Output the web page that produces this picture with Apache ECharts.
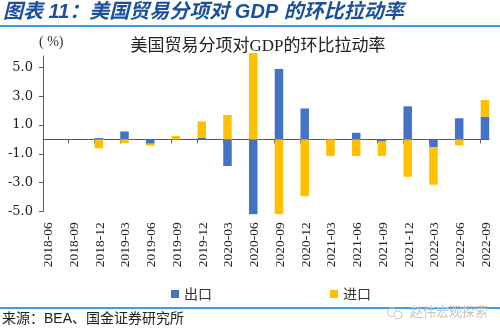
<!DOCTYPE html>
<html>
<head>
<meta charset="utf-8">
<script src="https://cdn.jsdelivr.net/npm/echarts@6/dist/echarts.min.js"></script>
<style>html,body{margin:0;padding:0;background:#fff}#c{width:500px;height:335px}</style>
</head>
<body>
<div id="c"></div>
<script>
const categories = ['2018-06','2018-09','2018-12','2019-03','2019-06','2019-09','2019-12','2020-03','2020-06','2020-09','2020-12','2021-03','2021-06','2021-09','2021-12','2022-03','2022-06','2022-09'];
const exportsContrib = [null, null, 0.1, 0.55, -0.3, 0, 0.1, -1.85, -5.2, 4.9, 2.15, 0, 0.46, -0.15, 2.3, -0.55, 1.47, 1.58];
const importsContrib = [null, null, -0.62, -0.26, -0.14, 0.24, 1.15, 1.7, 6.0, -5.2, -3.95, -1.15, -1.15, -1.0, -2.6, -2.6, -0.42, 1.16];
const yTicks = [-5, -3, -1, 1, 3, 5];
const seriesNames = ['出口', '进口'];

const idx = categories.map((c, i) => i);

const chart = echarts.init(document.getElementById('c'), null, {renderer: 'canvas'});
const serif = '"Liberation Serif", "Noto Sans CJK SC", serif';
const axisColor = '#595959';
const yMin = -5, yMax = 5.8;

chart.setOption({
  animation: false,
  backgroundColor: '#fff',
  title: {
    text: '美国贸易分项对GDP的环比拉动率',
    left: 253, top: 33, textAlign: 'center',
    textStyle: {fontFamily: serif, fontSize: 17, fontWeight: 'normal', color: '#222'}
  },
  legend: {
    data: seriesNames,
    left: 166, top: 282,
    icon: 'rect', itemWidth: 8, itemHeight: 8, itemGap: 118,
    textStyle: {fontFamily: '"Noto Sans CJK SC", sans-serif', fontSize: 14, color: '#333'}
  },
  grid: [
    {left: 43, right: 19.3, top: 56, bottom: 123.7, containLabel: false, outerBoundsMode: 'none'},
    {left: 43, right: 11, top: 56, bottom: 123.7, containLabel: false, outerBoundsMode: 'none'}
  ],
  xAxis: [{
    type: 'category', data: categories, boundaryGap: false, gridIndex: 0, position: 'bottom',
    axisLine: {show: false, onZero: false},
    axisTick: {show: false},
    splitLine: {show: false},
    axisLabel: {
      show: true, rotate: 90, margin: 11, interval: 0,
      verticalAlign: 'top', lineHeight: 11,
      fontFamily: serif, fontSize: 13.5, color: '#222'
    }
  }, {
    type: 'value', min: 0, max: 17.33, gridIndex: 1,
    axisLine: {show: true, onZero: true, lineStyle: {color: axisColor, width: 1}},
    axisTick: {show: true, inside: false, length: 4, customValues: idx, lineStyle: {color: axisColor}},
    axisLabel: {show: false},
    splitLine: {show: false}
  }],
  yAxis: [{
    type: 'value', min: yMin, max: yMax, gridIndex: 0,
    axisLine: {show: true, onZero: false, lineStyle: {color: axisColor, width: 1}},
    axisTick: {show: true, inside: false, length: 4, customValues: yTicks, lineStyle: {color: axisColor}},
    axisLabel: {
      customValues: yTicks, margin: 10,
      formatter: v => v.toFixed(1),
      fontFamily: '"DejaVu Serif", serif', fontSize: 13, color: '#222'
    },
    splitLine: {show: false}
  }, {
    type: 'value', min: yMin, max: yMax, gridIndex: 1, show: false,
    axisLine: {show: false}, axisTick: {show: false}, axisLabel: {show: false}, splitLine: {show: false}
  }],
  series: [{
    name: '_pad', type: 'bar', stack: 'pad', xAxisIndex: 0, yAxisIndex: 0,
    data: [], barWidth: 8.5, barGap: 0, silent: true, clip: false
  }, {
    name: seriesNames[0], type: 'bar', stack: 'trade', xAxisIndex: 0, yAxisIndex: 0,
    data: exportsContrib, barWidth: 8.5, barGap: 0, clip: false,
    itemStyle: {color: '#4472C4'}
  }, {
    name: seriesNames[1], type: 'bar', stack: 'trade', xAxisIndex: 0, yAxisIndex: 0,
    data: importsContrib, barWidth: 8.5, barGap: 0, clip: false,
    itemStyle: {color: '#FFC000'}
  }],
  graphic: [
    {type: 'text', left: 3, top: 2, style: {text: '图表 11：美国贸易分项对 GDP 的环比拉动率', fill: '#1B4F9C',
      font: 'italic bold 20px "Liberation Sans", "Noto Sans CJK SC", sans-serif'}},
    {type: 'rect', shape: {x: 0, y: 25, width: 500, height: 2}, style: {fill: '#3E9FE0'}},
    {type: 'text', left: 39, top: 35, style: {text: '( %)', fill: '#333', font: '14px "Liberation Serif", serif'}},
    {type: 'rect', shape: {x: 0, y: 307, width: 500, height: 2}, style: {fill: '#3E9FE0'}},
    {type: 'circle', shape: {cx: 392, cy: 312, r: 4.5}, style: {fill: 'none', stroke: '#c8c8c8', lineWidth: 1}},
    {type: 'circle', shape: {cx: 398, cy: 315, r: 4}, style: {fill: '#fff', stroke: '#c8c8c8', lineWidth: 1}},
    {type: 'text', left: 410, top: 305, style: {text: '赵伟宏观探索', fill: '#c4c4c4', font: '13px "Noto Sans CJK SC", sans-serif'}},
    {type: 'text', left: 2, top: 312, style: {text: '来源：BEA、国金证券研究所', fill: '#222', font: '14px "Liberation Sans", "Noto Sans CJK SC", sans-serif'}}
  ]
});
</script>
</body>
</html>
